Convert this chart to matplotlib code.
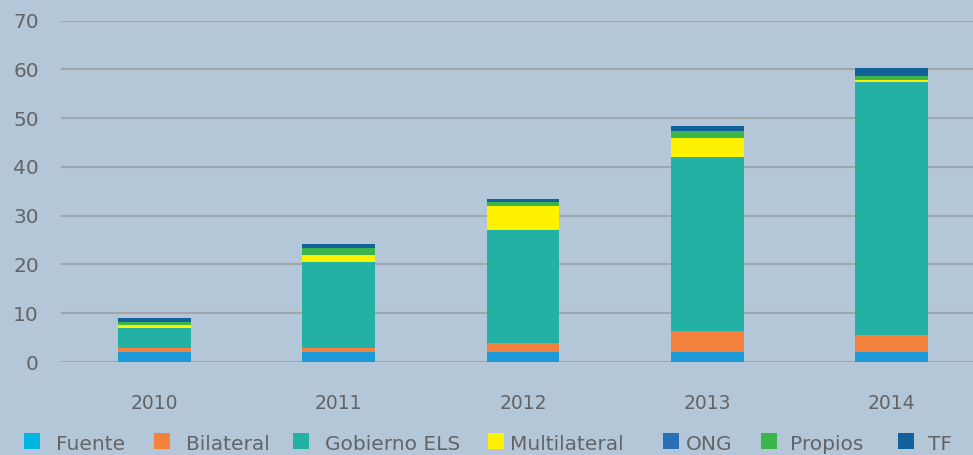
import matplotlib
matplotlib.use("Agg")
import matplotlib.pyplot as plt
from matplotlib.patches import Rectangle
import numpy as np

years = ["2010", "2011", "2012", "2013", "2014"]
series = ["Fuente", "Bilateral", "Gobierno ELS", "Multilateral", "ONG", "Propios", "TF"]
fuente = [2.05, 2.05, 2.05, 2.05, 2.05]
bilateral = [0.9, 0.9, 1.85, 4.35, 3.5]
gobierno = [4.1, 17.55, 23.2, 35.55, 51.8]
multilateral = [0.5, 1.35, 4.85, 4.05, 0.55]
ong = [0.0, 0.0, 0.0, 0.0, 0.0]
propios = [0.7, 1.6, 0.85, 1.35, 0.75]
tf = [0.7, 0.7, 0.7, 1.15, 1.55]
values = [fuente, bilateral, gobierno, multilateral, ong, propios, tf]

bar_colors = ["#1c9bd7", "#f5813f", "#23b1a5", "#fff200", "#2871b9", "#3cb54a", "#12619a"]
legend_colors = ["#00b5e0", "#f5813f", "#23b1a5", "#fff200", "#2871b9", "#3cb54a", "#12619a"]
yticks = [0, 10, 20, 30, 40, 50, 60, 70]

bg = "#b4c7d8"
txt = "#646466"
W, H = 973, 455
fig = plt.figure(figsize=(W / 100, H / 100), dpi=100, facecolor=bg)
ax = fig.add_axes([61 / W, (H - 362) / H, (W - 61) / W, (362 - 20.7) / H])
ax.set_facecolor(bg)

x = np.arange(len(years))
bottom = np.zeros(len(years))
for vals, c in zip(values, bar_colors):
    v = np.array(vals)
    ax.bar(x, v, width=0.396, bottom=bottom, color=c, linewidth=0, zorder=3)
    bottom += v

ax.set_ylim(0, 70)
ax.set_xlim(-0.507, 4.442)
ax.set_yticks(yticks)
ax.set_yticklabels([str(t) for t in yticks])
ax.set_xticks(x)
ax.set_xticklabels(years)
ax.grid(axis="y", color="#a2a5a9", linewidth=1.5, zorder=0)
ax.grid(axis="x", visible=False)
for s in ax.spines.values():
    s.set_visible(False)
ax.tick_params(axis="both", length=0, colors=txt, labelsize=14.5)
ax.tick_params(axis="y", pad=16)
ax.tick_params(axis="x", pad=23, labelsize=13.5)
for lab in ax.get_yticklabels() + ax.get_xticklabels():
    lab.set_color(txt)

# legend (manual placement)
sq_x = [24, 154, 293, 488, 663, 761, 898]
tx_x = [56, 186, 325, 510, 686, 790, 928]
for name, c, sx, tx in zip(series, legend_colors, sq_x, tx_x):
    fig.add_artist(Rectangle((sx / W, (H - 449) / H), 16 / W, 16 / H,
                             transform=fig.transFigure, facecolor=c, edgecolor="none"))
    fig.text(tx / W, (H - 450.5) / H, name, color=txt, fontsize=14.5, va="baseline", ha="left")

fig.savefig("out.png", dpi=100, facecolor=bg)
